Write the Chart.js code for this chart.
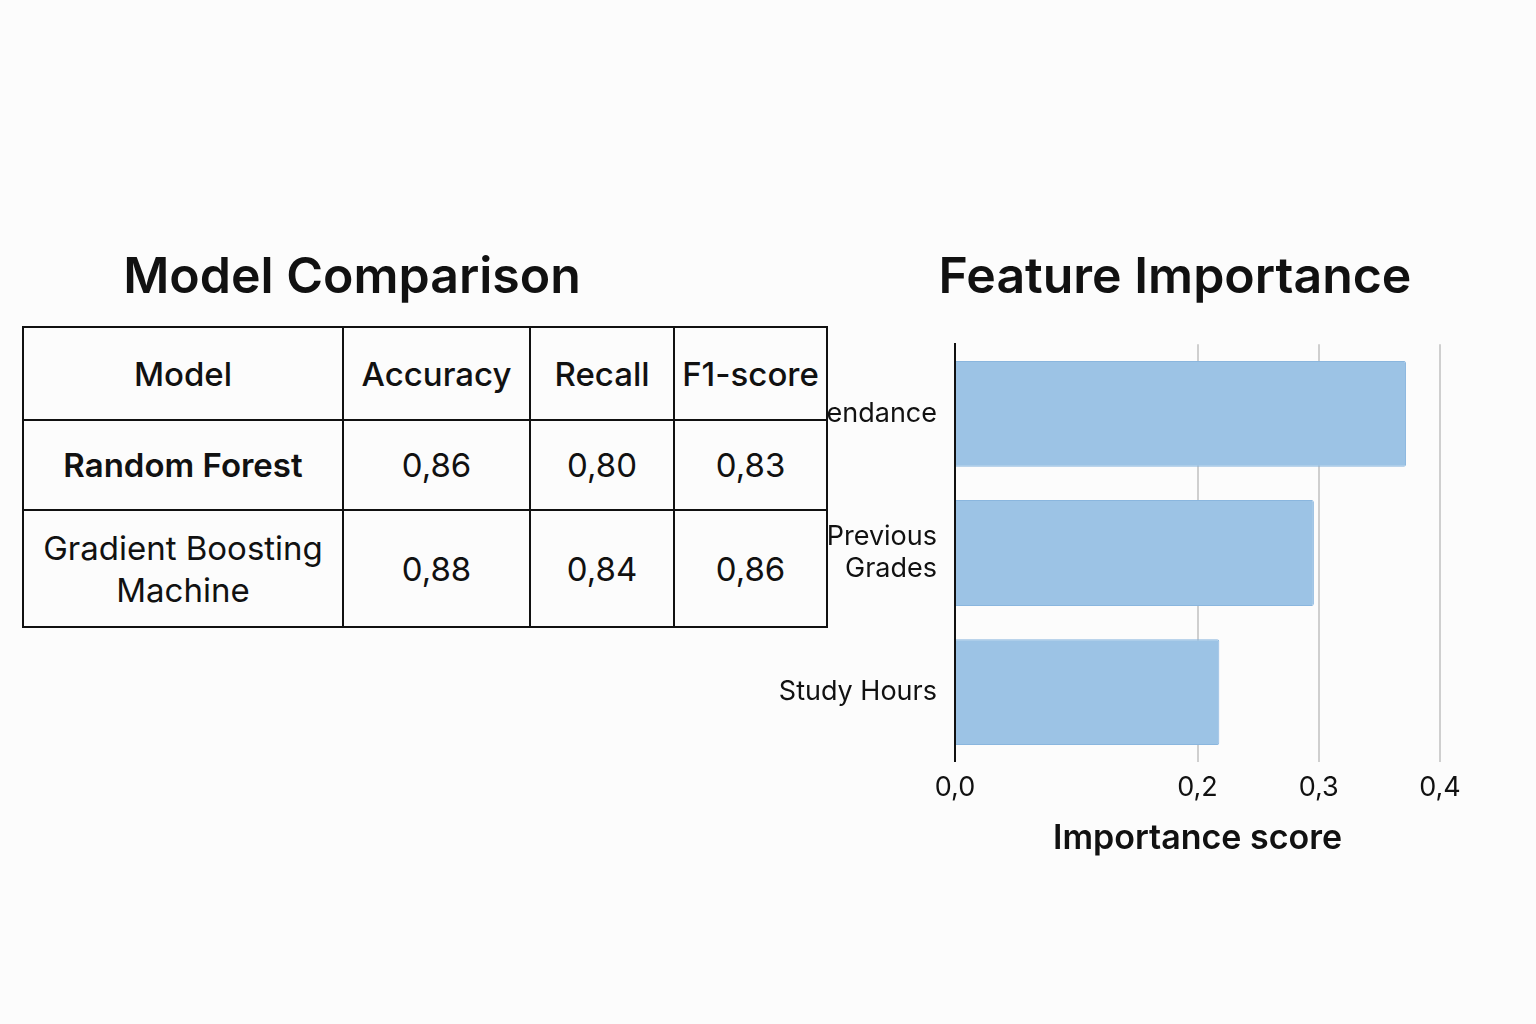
<!DOCTYPE html>
<html><head><meta charset="utf-8">
<script src="https://cdn.jsdelivr.net/npm/chart.js@4"></script>
<style>
body{margin:0;width:1536px;height:1024px;background:#fcfcfc;font-family:Inter,"Noto Sans",sans-serif;position:relative;overflow:hidden}
.t{position:absolute;top:245px;text-align:center;font-size:50px;font-weight:600;color:#111;white-space:nowrap}
#t1{left:22px;width:660px}
#t2{left:875px;width:600px}
table{position:absolute;left:22px;top:326px;border-collapse:collapse;table-layout:fixed;width:797px;background:#fcfcfc;z-index:2;font-size:33px;color:#111}
td{border:2px solid #111;text-align:center;padding:0;line-height:42px;white-space:nowrap;overflow:hidden}
#cw{position:absolute;left:700px;top:318px;width:800px;height:545px;z-index:1}
</style></head><body>
<div class="t" id="t1">Model Comparison</div>
<div class="t" id="t2">Feature Importance</div>
<table id="tb"></table>
<div id="cw"><canvas id="c"></canvas></div>
<script>
const tableHeader=["Model","Accuracy","Recall","F1-score"];
const models=["Random Forest",["Gradient Boosting","Machine"]];
const accuracy=["0,86","0,88"];
const recall=["0,80","0,84"];
const f1=["0,83","0,86"];
const features=["Attendance",["Previous","Grades"],"Study Hours"];
const importance=[0.372,0.296,0.218];
const tickVals=[0,0.2,0.3,0.4];

const tb=document.getElementById('tb');
const widths=[318,185,142,151];
const heights=[93,90,117];
let h='<tr style="height:'+heights[0]+'px">'+tableHeader.map((x,i)=>'<td style="width:'+widths[i]+'px;font-weight:500">'+x+'</td>').join('')+'</tr>';
models.forEach((m,i)=>{h+='<tr style="height:'+heights[i+1]+'px"><td style="font-weight:'+(i==0?600:400)+'">'+[].concat(m).join('<br>')+'</td><td>'+accuracy[i]+'</td><td>'+recall[i]+'</td><td>'+f1[i]+'</td></tr>';});
tb.innerHTML=h;

new Chart(document.getElementById('c'),{type:'bar',
data:{labels:features,datasets:[{data:importance,backgroundColor:'#9cc3e5',borderColor:'#8ab6de',borderWidth:1,borderRadius:2,barPercentage:0.76,categoryPercentage:1}]},
options:{indexAxis:'y',responsive:true,maintainAspectRatio:false,animation:false,
layout:{padding:{right:60,bottom:0,top:2}},
plugins:{legend:{display:false},tooltip:{enabled:false},title:{display:false}},
scales:{
x:{min:0,max:0.4,afterBuildTicks:a=>{a.ticks=tickVals.map(v=>({value:v}));},
ticks:{color:'#111',font:{family:'Inter',size:27},padding:10,callback:v=>v.toFixed(1).replace('.',',')},
grid:{color:'#cfcfcf',lineWidth:2,drawTicks:false},border:{display:false},
title:{display:true,text:'Importance score',color:'#111',font:{family:'Inter',size:34,weight:'600'}}},
y:{ticks:{color:'#111',font:{family:'Inter',size:27},padding:10},grid:{display:false},border:{color:'#111',width:2},
afterFit:s=>{s.width=255;}}
}}});
</script></body></html>
